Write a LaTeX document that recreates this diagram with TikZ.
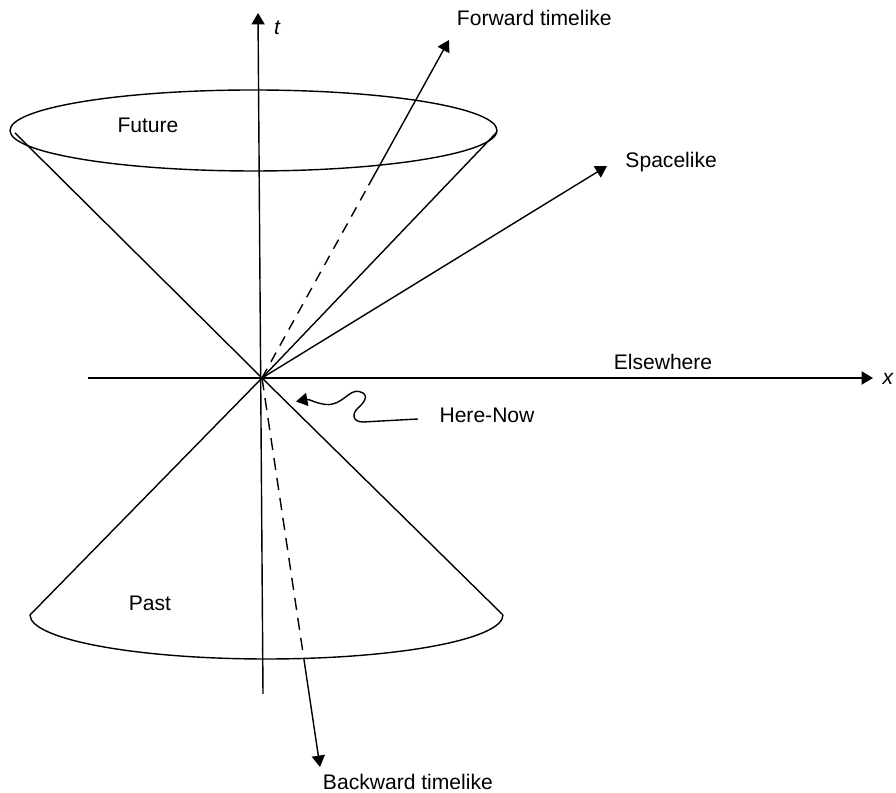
\documentclass[tikz,border=0pt]{standalone}
\usepackage{fontspec}
\setmainfont{Liberation Sans}
\usetikzlibrary{arrows.meta,calc}

\begin{document}
\begin{tikzpicture}[every node/.style={font=\fontsize{12}{14}\selectfont, inner sep=1pt}, >={Triangle[length=6.5pt,width=7.5pt]}, line width=0.8pt]
	\useasboundingbox (-5.24,-8.30) rectangle (12.68,7.56);
	\coordinate (O) at (0,0);
	% axes
	\coordinate (tbot) at (0.02,-6.32);
	\coordinate (ttop) at (-0.08,7.30);
	\coordinate (xl) at (-3.48,0);
	\coordinate (xr) at (12.22,0);
	\draw[->] (tbot) -- (ttop);
	\draw[->] (xl) -- (xr);
	\node (tlab) at (0.30,7.00) {\itshape t};
	\node (xlab) at (12.52,-0.02) {\itshape x};
	\node (elsew) at (8.02,0.32) {Elsewhere};
	% future cone
	\draw (-0.17,4.95) ellipse [x radius=4.87, y radius=0.81];
	\draw (-4.94,4.90) -- (O) -- (4.70,4.92);
	\node (fut) at (-2.28,5.06) {Future};
	% past cone
	\draw (-4.64,-4.74) -- (O) -- (4.82,-4.74);
	\draw (-4.64,-4.74) arc [start angle=180, end angle=360, x radius=4.73, y radius=0.88];
	\node (past) at (-2.24,-4.50) {Past};
	% world lines
	\coordinate (fwd) at (3.74,6.76);
	\coordinate (spc) at (6.90,4.24);
	\coordinate (bwd) at (1.16,-7.78);
	\draw[dash pattern=on 6pt off 4.5pt] (O) -- ($(O)!0.57!(fwd)$) coordinate (fwdm);
	\draw[->] (fwdm) -- (fwd);
	\draw[->] (O) -- (spc);
	\draw[dash pattern=on 7pt off 4.5pt] (O) -- ($(O)!0.72!(bwd)$) coordinate (bwdm);
	\draw[->] (bwdm) -- (bwd);
	\node[anchor=west] (fwdlab) at (3.85,7.20) {Forward timelike};
	\node[anchor=west] (spclab) at (7.22,4.32) {Spacelike};
	\node[anchor=west] (bwdlab) at (1.17,-8.07) {Backward timelike};
	% here-now pointer
	\node (here) at (4.50,-0.74) {Here-Now};
	\coordinate (hn) at (0.68,-0.47);
	\draw[->] (3.12,-0.82) -- (2.02,-0.88) .. controls (1.80,-0.88) and (1.80,-0.70) .. (1.92,-0.60)
		.. controls (2.06,-0.48) and (2.16,-0.32) .. (1.94,-0.27)
		.. controls (1.74,-0.22) and (1.60,-0.56) .. (1.28,-0.53)
		.. controls (1.08,-0.51) and (0.95,-0.42) .. (hn);
\end{tikzpicture}
\end{document}
